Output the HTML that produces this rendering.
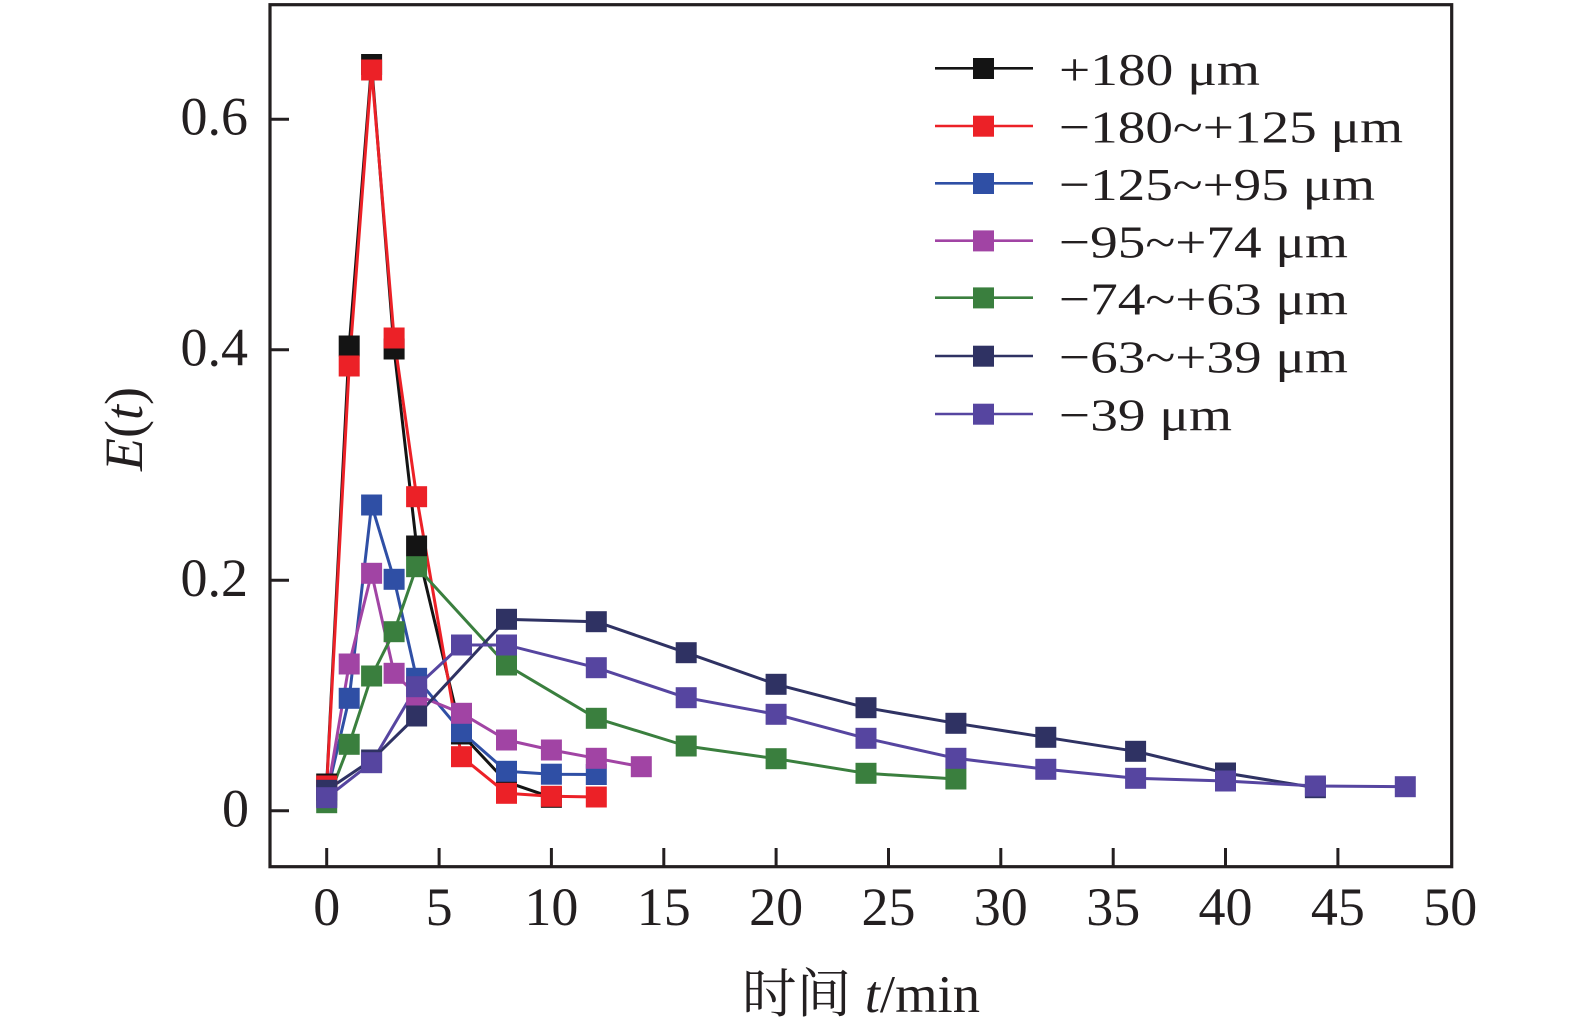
<!DOCTYPE html>
<html>
<head>
<meta charset="utf-8">
<style>
  html, body { margin:0; padding:0; background:#fff; }
  svg { display:block; }
  text { font-family: "Liberation Serif", "Noto Serif CJK SC", serif; fill:#231f20; }
</style>
</head>
<body>
<svg width="1575" height="1035" viewBox="0 0 1575 1035" xmlns="http://www.w3.org/2000/svg">
  <rect width="1575" height="1035" fill="#fff"/>

  <!-- Series -->
  <g fill="none" stroke-width="3" stroke-linejoin="round">
    <polyline stroke="#141414" points="326.7,784 349.2,346 371.6,64.5 394.1,349 416.6,546 461.5,734 506.5,782 551.4,797.3"/>
    <polyline stroke="#ec2127" points="326.7,786 349.2,366 371.6,70 394.1,338 416.6,496.7 461.5,756.7 506.5,793.3 551.4,796.3 596.3,797"/>
    <polyline stroke="#2f4fa5" points="326.7,795 349.2,698.3 371.6,505 394.1,579.3 416.6,678.3 461.5,731.7 506.5,771.3 551.4,774.2 596.3,774.5"/>
    <polyline stroke="#a144a4" points="326.7,797 349.2,664 371.6,573.3 394.1,673.3 416.6,695 461.5,713.3 506.5,740 551.4,750 596.3,758.3 641.3,766.7"/>
    <polyline stroke="#3a7f3e" points="326.7,802.7 349.2,744.3 371.6,676 394.1,631.7 416.6,566.7 506.5,665 596.3,718.3 686.2,746 776.1,758.7 866,773.3 955.9,779"/>
    <polyline stroke="#2f3263" points="326.7,790.3 371.6,760 416.6,716 506.5,619.3 596.3,621.7 686.2,652.7 776.1,684.3 866,707.7 955.9,723.3 1045.8,737.3 1135.6,751.3 1225.5,773 1315.4,787.7"/>
    <polyline stroke="#5645a0" points="326.7,797.7 371.6,762.7 416.6,686.7 461.5,645 506.5,645 596.3,667.7 686.2,697.7 776.1,714.3 866,738.3 955.9,758.3 1045.8,769.3 1135.6,778.3 1225.5,781 1315.4,786 1405.3,786.7"/>
  </g>

  <!-- Markers -->
  <g fill="#141414">
    <rect x="316.2" y="773.5" width="21" height="21"/>
    <rect x="338.7" y="335.5" width="21" height="21"/>
    <rect x="361.1" y="54" width="21" height="21"/>
    <rect x="383.6" y="338.5" width="21" height="21"/>
    <rect x="406.1" y="535.5" width="21" height="21"/>
    <rect x="451" y="723.5" width="21" height="21"/>
    <rect x="496" y="771.5" width="21" height="21"/>
    <rect x="540.9" y="786.8" width="21" height="21"/>
  </g>
  <g fill="#ec2127">
    <rect x="316.2" y="775.5" width="21" height="21"/>
    <rect x="338.7" y="355.5" width="21" height="21"/>
    <rect x="361.1" y="59.5" width="21" height="21"/>
    <rect x="383.6" y="327.5" width="21" height="21"/>
    <rect x="406.1" y="486.2" width="21" height="21"/>
    <rect x="451" y="746.2" width="21" height="21"/>
    <rect x="496" y="782.8" width="21" height="21"/>
    <rect x="540.9" y="785.8" width="21" height="21"/>
    <rect x="585.8" y="786.5" width="21" height="21"/>
  </g>
  <g fill="#2f4fa5">
    <rect x="316.2" y="784.5" width="21" height="21"/>
    <rect x="338.7" y="687.8" width="21" height="21"/>
    <rect x="361.1" y="494.5" width="21" height="21"/>
    <rect x="383.6" y="568.8" width="21" height="21"/>
    <rect x="406.1" y="667.8" width="21" height="21"/>
    <rect x="451" y="721.2" width="21" height="21"/>
    <rect x="496" y="760.8" width="21" height="21"/>
    <rect x="540.9" y="763.7" width="21" height="21"/>
    <rect x="585.8" y="764" width="21" height="21"/>
  </g>
  <g fill="#a144a4">
    <rect x="316.2" y="786.5" width="21" height="21"/>
    <rect x="338.7" y="653.5" width="21" height="21"/>
    <rect x="361.1" y="562.8" width="21" height="21"/>
    <rect x="383.6" y="662.8" width="21" height="21"/>
    <rect x="406.1" y="684.5" width="21" height="21"/>
    <rect x="451" y="702.8" width="21" height="21"/>
    <rect x="496" y="729.5" width="21" height="21"/>
    <rect x="540.9" y="739.5" width="21" height="21"/>
    <rect x="585.8" y="747.8" width="21" height="21"/>
    <rect x="630.8" y="756.2" width="21" height="21"/>
  </g>
  <g fill="#3a7f3e">
    <rect x="316.2" y="792.2" width="21" height="21"/>
    <rect x="338.7" y="733.8" width="21" height="21"/>
    <rect x="361.1" y="665.5" width="21" height="21"/>
    <rect x="383.6" y="621.2" width="21" height="21"/>
    <rect x="406.1" y="556.2" width="21" height="21"/>
    <rect x="496" y="654.5" width="21" height="21"/>
    <rect x="585.8" y="707.8" width="21" height="21"/>
    <rect x="675.7" y="735.5" width="21" height="21"/>
    <rect x="765.6" y="748.2" width="21" height="21"/>
    <rect x="855.5" y="762.8" width="21" height="21"/>
    <rect x="945.4" y="768.5" width="21" height="21"/>
  </g>
  <g fill="#2f3263">
    <rect x="316.2" y="779.8" width="21" height="21"/>
    <rect x="361.1" y="749.5" width="21" height="21"/>
    <rect x="406.1" y="705.5" width="21" height="21"/>
    <rect x="496" y="608.8" width="21" height="21"/>
    <rect x="585.8" y="611.2" width="21" height="21"/>
    <rect x="675.7" y="642.2" width="21" height="21"/>
    <rect x="765.6" y="673.8" width="21" height="21"/>
    <rect x="855.5" y="697.2" width="21" height="21"/>
    <rect x="945.4" y="712.8" width="21" height="21"/>
    <rect x="1035.3" y="726.8" width="21" height="21"/>
    <rect x="1125.1" y="740.8" width="21" height="21"/>
    <rect x="1215" y="762.5" width="21" height="21"/>
    <rect x="1304.9" y="777.2" width="21" height="21"/>
  </g>
  <g fill="#5645a0">
    <rect x="316.2" y="787.2" width="21" height="21"/>
    <rect x="361.1" y="752.2" width="21" height="21"/>
    <rect x="406.1" y="676.2" width="21" height="21"/>
    <rect x="451" y="634.5" width="21" height="21"/>
    <rect x="496" y="634.5" width="21" height="21"/>
    <rect x="585.8" y="657.2" width="21" height="21"/>
    <rect x="675.7" y="687.2" width="21" height="21"/>
    <rect x="765.6" y="703.8" width="21" height="21"/>
    <rect x="855.5" y="727.8" width="21" height="21"/>
    <rect x="945.4" y="747.8" width="21" height="21"/>
    <rect x="1035.3" y="758.8" width="21" height="21"/>
    <rect x="1125.1" y="767.8" width="21" height="21"/>
    <rect x="1215" y="770.5" width="21" height="21"/>
    <rect x="1304.9" y="775.5" width="21" height="21"/>
    <rect x="1394.8" y="776.2" width="21" height="21"/>
  </g>

  <!-- Axes frame -->
  <rect x="270" y="4.7" width="1181.7" height="862" fill="none" stroke="#231f20" stroke-width="3.2"/>

  <!-- Y ticks -->
  <g stroke="#231f20" stroke-width="3">
    <line x1="270" y1="810.7" x2="289" y2="810.7"/>
    <line x1="270" y1="580.2" x2="289" y2="580.2"/>
    <line x1="270" y1="349.8" x2="289" y2="349.8"/>
    <line x1="270" y1="119.3" x2="289" y2="119.3"/>
  </g>
  <!-- X ticks -->
  <g stroke="#231f20" stroke-width="3">
    <line x1="326.7" y1="866.7" x2="326.7" y2="848"/>
    <line x1="439.1" y1="866.7" x2="439.1" y2="848"/>
    <line x1="551.4" y1="866.7" x2="551.4" y2="848"/>
    <line x1="663.8" y1="866.7" x2="663.8" y2="848"/>
    <line x1="776.1" y1="866.7" x2="776.1" y2="848"/>
    <line x1="888.5" y1="866.7" x2="888.5" y2="848"/>
    <line x1="1000.8" y1="866.7" x2="1000.8" y2="848"/>
    <line x1="1113.2" y1="866.7" x2="1113.2" y2="848"/>
    <line x1="1225.5" y1="866.7" x2="1225.5" y2="848"/>
    <line x1="1337.9" y1="866.7" x2="1337.9" y2="848"/>
  </g>

  <!-- Y tick labels -->
  <g font-size="54" text-anchor="end">
    <text x="249" y="826.5">0</text>
    <text x="248" y="595.8">0.2</text>
    <text x="248" y="365.3">0.4</text>
    <text x="248" y="134.5">0.6</text>
  </g>
  <!-- X tick labels -->
  <g font-size="54" text-anchor="middle">
    <text x="326.7" y="925">0</text>
    <text x="439.1" y="925">5</text>
    <text x="551.4" y="925">10</text>
    <text x="663.8" y="925">15</text>
    <text x="776.1" y="925">20</text>
    <text x="888.5" y="925">25</text>
    <text x="1000.8" y="925">30</text>
    <text x="1113.2" y="925">35</text>
    <text x="1225.5" y="925">40</text>
    <text x="1337.9" y="925">45</text>
    <text x="1450.2" y="925">50</text>
  </g>

  <!-- Axis titles -->
  <text x="742" y="1012" font-size="53" textLength="238" lengthAdjust="spacingAndGlyphs">时间 <tspan font-style="italic">t</tspan>/min</text>
  <text transform="translate(142,429) rotate(-90)" font-size="54" text-anchor="middle"><tspan font-style="italic">E</tspan>(<tspan font-style="italic">t</tspan>)</text>

  <!-- Legend -->
  <g stroke-width="2.6">
    <line x1="935" y1="68.3" x2="1033" y2="68.3" stroke="#141414"/>
    <line x1="935" y1="126" x2="1033" y2="126" stroke="#ec2127"/>
    <line x1="935" y1="183.3" x2="1033" y2="183.3" stroke="#2f4fa5"/>
    <line x1="935" y1="240.7" x2="1033" y2="240.7" stroke="#a144a4"/>
    <line x1="935" y1="297.7" x2="1033" y2="297.7" stroke="#3a7f3e"/>
    <line x1="935" y1="356" x2="1033" y2="356" stroke="#2f3263"/>
    <line x1="935" y1="414" x2="1033" y2="414" stroke="#5645a0"/>
  </g>
  <rect x="973" y="58" width="21" height="21" fill="#141414"/>
  <rect x="973" y="115.7" width="21" height="21" fill="#ec2127"/>
  <rect x="973" y="173" width="21" height="21" fill="#2f4fa5"/>
  <rect x="973" y="230.4" width="21" height="21" fill="#a144a4"/>
  <rect x="973" y="287.4" width="21" height="21" fill="#3a7f3e"/>
  <rect x="973" y="345.7" width="21" height="21" fill="#2f3263"/>
  <rect x="973" y="403.7" width="21" height="21" fill="#5645a0"/>

  <g font-size="46">
    <text x="1059" y="85" textLength="201" lengthAdjust="spacingAndGlyphs">+180 μm</text>
    <text x="1059" y="142.7" textLength="344" lengthAdjust="spacingAndGlyphs">−180~+125 μm</text>
    <text x="1059" y="200" textLength="316" lengthAdjust="spacingAndGlyphs">−125~+95 μm</text>
    <text x="1059" y="257.4" textLength="289" lengthAdjust="spacingAndGlyphs">−95~+74 μm</text>
    <text x="1059" y="314.4" textLength="289" lengthAdjust="spacingAndGlyphs">−74~+63 μm</text>
    <text x="1059" y="372.7" textLength="289" lengthAdjust="spacingAndGlyphs">−63~+39 μm</text>
    <text x="1059" y="430.7" textLength="173" lengthAdjust="spacingAndGlyphs">−39 μm</text>
  </g>
</svg>
</body>
</html>
